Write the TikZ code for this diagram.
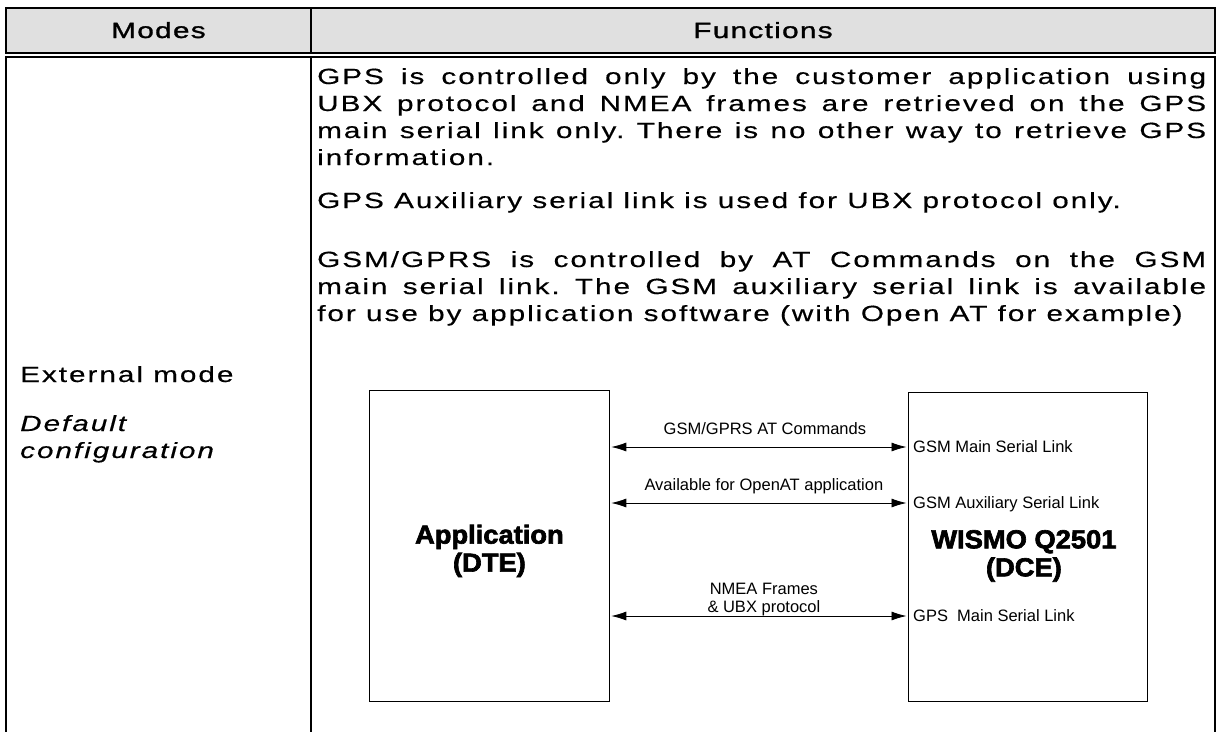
\documentclass[tikz,border=0pt]{standalone}
\usepackage{fontspec}
\setmainfont{Liberation Sans}
\newfontfamily\bodyfont[FakeStretch=1.35, LetterSpace=9, FakeBold=0.4]{Liberation Sans}
\newfontfamily\headfont[FakeStretch=1.35, LetterSpace=6, FakeBold=1.3]{Liberation Sans}
\newfontfamily\unitfont[FakeStretch=1.05, FakeBold=2.5]{Liberation Sans}
\usepackage{xcolor}
\usepackage{tikz}
\usetikzlibrary{shapes, arrows, arrows.meta, positioning, calc}
\definecolor{headgray}{HTML}{E0E0E0}
\hyphenpenalty=10000
\tolerance=10000
\frenchspacing

\begin{document}
\begin{tikzpicture}[
        x=1pt, y=-1pt,
        cell/.style={font=\bodyfont\fontsize{22}{27}\selectfont, inner sep=0pt},
        head/.style={cell, anchor=base, font=\headfont\fontsize{22}{27}\selectfont},
        para/.style={cell, text width=889pt, align=justify, anchor=base west},
        unit/.style={rectangle, draw, line width=0.8pt, anchor=north west},
        title/.style={align=center, inner sep=0pt, font=\unitfont\bfseries\fontsize{26}{28}\selectfont},
        lbl/.style={font=\fontsize{16.5}{18}\selectfont, inner sep=0pt, text depth=0pt},
        link/.style={<->, >={Latex[length=15pt, width=9pt]}, line width=0.8pt, shorten <=1.5pt, shorten >=1.5pt}
    ]
    \useasboundingbox (0,0) rectangle (1218,731);

    % Table frame
    \fill[headgray] (6,8) rectangle (1215,53);
    \draw[line width=1.6pt] (6,8) rectangle (1215,53);
    \draw[line width=1.6pt] (311,8) -- (311,53);
    \draw[line width=1.6pt] (6,740) |- (1215,57) -- (1215,740);
    \draw[line width=1.6pt] (311,57) -- (311,740);

    % Header
    \node[head] (modes) at (158.5,38) {Modes};
    \node[head] (functions) at (763,38) {Functions};

    % Mode column
    \node[cell, anchor=base west] (extmode) at (20,382) {External mode};
    \node[cell, anchor=base west, font=\bodyfont\itshape\fontsize{22}{27}\selectfont] (deflt) at (20,431) {Default};
    \node[cell, anchor=base west, font=\bodyfont\itshape\fontsize{22}{27}\selectfont] (config) at (20,458) {configuration};

    % Function column
    \node[para] (gpsctl) at (317,84) {GPS is controlled only by the customer application using\linebreak UBX protocol and NMEA frames are retrieved on the GPS\linebreak main serial link only. There is no other way to retrieve GPS\linebreak information.};
    \node[para] (gpsaux) at (317,208) {GPS Auxiliary serial link is used for UBX protocol only.};
    \node[para] (gsmctl) at (317,267) {GSM/GPRS is controlled by AT Commands on the GSM\linebreak main serial link. The GSM auxiliary serial link is available\linebreak for use by application software (with Open AT for example)};

    % Diagram
    \node[unit, minimum width=240pt, minimum height=311pt] (dte) at (369,390) {};
    \node[unit, minimum width=239pt, minimum height=309pt] (dce) at (908,392) {};
    \node[title] (dtetitle) at ($(dte.center)+(0,5)$) {Application\\(DTE)};
    \node[title] (dcetitle) at ($(dce.center)+(-4,9)$) {WISMO Q2501\\(DCE)};

    \node[lbl, anchor=west] (gsmmain) at (913,447) {GSM Main Serial Link};
    \node[lbl, anchor=west] (gsmaux) at (913,503) {GSM Auxiliary Serial Link};
    \node[lbl, anchor=west] (gpsmain) at (913,616) {GPS\ \ Main Serial Link};

    \draw[link] (dte.east |- gsmmain) -- (dce.west |- gsmmain)
        node[lbl, midway, above=12pt, xshift=6pt] {GSM/GPRS AT Commands};
    \draw[link] (dte.east |- gsmaux) -- (dce.west |- gsmaux)
        node[lbl, midway, above=12pt, xshift=5pt] {Available for OpenAT application};
    \draw[link] (dte.east |- gpsmain) -- (dce.west |- gpsmain)
        node[lbl, midway, above=3pt, xshift=5pt, align=center] {NMEA Frames\\\& UBX protocol};

\end{tikzpicture}
\end{document}
